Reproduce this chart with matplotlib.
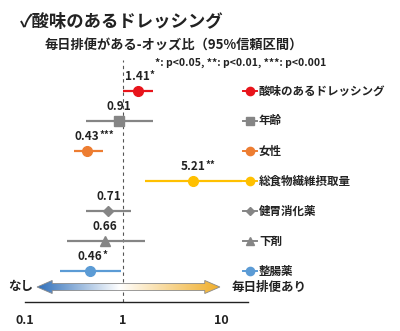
import numpy as np
import matplotlib
matplotlib.use('Agg')
import matplotlib.pyplot as plt
import matplotlib.transforms as mtransforms
from matplotlib.patches import Polygon
from matplotlib.colors import LinearSegmentedColormap

plt.rcParams['font.family'] = ['Noto Sans CJK JP', 'DejaVu Sans']
plt.rcParams['font.weight'] = 'bold'

# 各項目のオッズ比と95%信頼区間
labels = ['酸味のあるドレッシング', '年齢', '女性', '総食物繊維摂取量', '健胃消化薬', '下剤', '整腸薬']
odds = [1.41, 0.91, 0.43, 5.21, 0.71, 0.66, 0.46]
ci_low = [1.01, 0.42, 0.32, 1.68, 0.42, 0.27, 0.23]
ci_high = [2.02, 2.02, 0.63, 16.5, 1.21, 1.68, 0.95]
stars = ['*', '', '***', '**', '', '', '*']
xticks = [0.1, 1, 10]
xticklabels = ['0.1', '1', '10']

colors = ['#e8141b', '#858585', '#ed7d31', '#ffc000', '#858585', '#858585', '#5b9bd5']
markers = ['o', 's', 'o', 'o', 'D', '^', 'o']
msizes = [7, 7, 7, 7, 5, 6.5, 7]

W, H = 400, 331
fig = plt.figure(figsize=(W / 100, H / 100), dpi=100)
ax = fig.add_axes([25 / W, 1 - 302 / H, 223 / W, 242 / H])

ax.set_xscale('log')
ax.set_xlim(0.1, 18.9)
ax.set_ylim(7.03, -1.03)

ax.axvline(1, color='#555555', lw=0.8, ls=(0, (3, 3)), zorder=1)

rows = np.arange(len(labels))
for i in rows:
    ax.plot([ci_low[i], ci_high[i]], [i, i], color=colors[i], lw=1.6, zorder=2,
            solid_capstyle='butt')
    ax.plot(odds[i], i, marker=markers[i], ms=msizes[i], color=colors[i],
            mec=colors[i], zorder=3)
    t = ax.text(odds[i], i - 0.47, f'{odds[i]:.2f}', ha='center', va='center',
                fontsize=8.5, fontweight='bold', color='#222222')
    if stars[i]:
        ax.annotate(stars[i], xy=(1.0, 1.05), xycoords=t, ha='left', va='top',
                    fontsize=7, fontweight='bold', color='#222222')

# 右側の凡例
blend = mtransforms.blended_transform_factory(ax.transAxes, ax.transData)
for i in rows:
    ax.plot([0.978, 1.04], [i, i], color=colors[i], lw=1.4, transform=blend,
            clip_on=False)
    ax.plot([1.009], [i], marker=markers[i], ms=msizes[i] * 0.85, color=colors[i],
            transform=blend, clip_on=False)
    ax.text(1.049, i, labels[i], transform=blend, ha='left', va='center',
            fontsize=8.3, fontweight='bold', color='#222222', clip_on=False)

# グラデーションの両矢印
x0, x1 = 0.054, 0.874
yc = 0.062
hl, hw, sw = 0.068, 0.027, 0.0145
verts = [(x0, yc), (x0 + hl, yc + hw), (x0 + hl, yc + sw), (x1 - hl, yc + sw),
         (x1 - hl, yc + hw), (x1, yc), (x1 - hl, yc - hw), (x1 - hl, yc - sw),
         (x0 + hl, yc - sw), (x0 + hl, yc - hw)]
arrow = Polygon(verts, closed=True, transform=ax.transAxes, facecolor='none',
                edgecolor='#8a8a8a', lw=0.6, zorder=4, clip_on=False)
ax.add_patch(arrow)
cmap = LinearSegmentedColormap.from_list(
    'arr', [(0, '#2f6fba'), (0.45, '#ffffff'), (1, '#f0ae2a')])
grad = np.linspace(0, 1, 256).reshape(1, -1)
im = ax.imshow(grad, cmap=cmap, aspect='auto', transform=ax.transAxes,
               extent=[x0, x1, yc - hw, yc + hw], zorder=3, interpolation='bilinear')
im.set_clip_path(arrow)
ax.text(0.036, yc, 'なし', transform=ax.transAxes, ha='right', va='center',
        fontsize=9, fontweight='bold', color='#222222', clip_on=False)
ax.text(0.928, yc, '毎日排便あり', transform=ax.transAxes, ha='left', va='center',
        fontsize=9, fontweight='bold', color='#222222', clip_on=False)

for s in ['top', 'right', 'left']:
    ax.spines[s].set_visible(False)
ax.spines['bottom'].set_color('#222222')
ax.spines['bottom'].set_linewidth(1.0)
ax.set_yticks([])
ax.set_xticks(xticks)
ax.set_xticklabels(xticklabels, fontsize=9, fontweight='bold', color='#222222')
ax.xaxis.set_minor_locator(matplotlib.ticker.NullLocator())
ax.tick_params(axis='x', length=0, pad=9)

fig.text(20 / W, 1 - 22 / H, '✓酸味のあるドレッシング', ha='left', va='center',
         fontsize=12.5, fontweight='bold', color='#222222')
fig.text(45 / W, 1 - 45 / H, '毎日排便がある-オッズ比（95%信頼区間）', ha='left',
         va='center', fontsize=9.5, fontweight='bold', color='#222222')
fig.text(155 / W, 1 - 63 / H, '*: p<0.05, **: p<0.01, ***: p<0.001', ha='left',
         va='center', fontsize=7.5, fontweight='bold', color='#222222')

fig.savefig('out.png', dpi=100, facecolor='white')
